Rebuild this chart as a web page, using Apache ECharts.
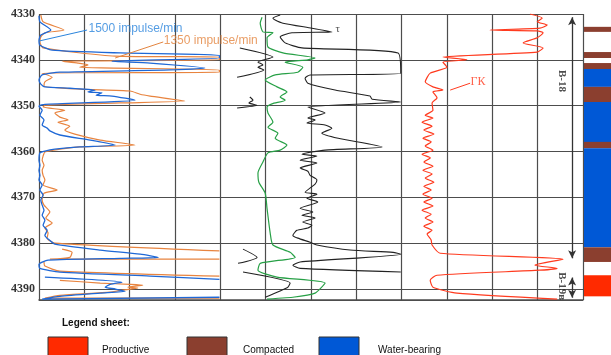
<!DOCTYPE html>
<html>
<head>
<meta charset="utf-8">
<script src="https://cdn.jsdelivr.net/npm/echarts@6/dist/echarts.min.js"></script>
<style>
  html, body { margin: 0; padding: 0; background: #fff; }
  #main { width: 611px; height: 355px; }
</style>
</head>
<body>
<div id="main"></div>
<script>
// depth scale, m
const depthMin = 4330;
const depthMax = 4392.4;
const depthStep = 10;

// curve readings as [value, depth]; value in chart divisions (10 per column), null = break
const nk1500 = [
  [0,4330.4],[0.2,4331.7],[2.6,4333.5],[0.4,4334.6],[0,4335.7],[0.2,4336.8],[2.9,4337.9],[17.9,4338.5],
  [39.8,4339.0],[39.8,4339.6],[16.1,4340.3],[24.5,4340.7],[36.6,4341.8],[28.9,4342.2],[4.6,4342.7],
  [0.7,4343.3],[0,4344.4],[0.4,4345.3],[1.3,4345.9],[6.8,4346.2],[12.4,4346.6],[10.8,4347.0],[13.9,4347.2],
  [12.6,4347.7],[16.1,4347.9],[21.2,4348.8],[1.3,4349.7],[0,4350.1],[0.7,4351.0],[0.2,4352.1],[1.1,4353.1],
  [0.7,4354.2],[1.8,4354.9],[2.4,4355.5],[4.6,4356.4],[11.3,4357.5],[16.8,4358.6],[9.0,4359.0],[3.5,4359.5],
  [1.3,4359.9],[0.2,4360.3],[0,4361.9],[0.2,4363.0],[0,4364.1],[0.2,4365.2],[0,4366.2],[0.7,4367.3],
  [0.2,4368.4],[0.9,4369.5],[0.4,4370.6],[0.7,4371.7],[1.1,4372.8],[0.7,4373.9],[1.3,4375.0],[0.9,4376.1],
  [1.8,4377.2],[1.3,4378.3],[2.4,4379.4],[3.5,4380.2],[13.5,4381.5],[22.3,4382.4],[26.3,4383.1],
  [17.9,4383.3],[2.0,4383.7],[0,4384.6],[0.2,4385.5],[4.6,4386.3],[24.5,4387.2],[39.8,4387.9],null,
  [1.3,4387.4],[18.3,4388.5],[15.7,4389.0],[14.6,4389.6],[16.8,4390.0],[19.0,4390.5],[13.5,4390.9],
  [4.6,4391.6],[0.7,4392.2],[39.8,4391.8]
];
const nk1350 = [
  [0.4,4330.2],[0.9,4331.7],[5.5,4333.5],[1.3,4334.1],[0.4,4335.0],[0.2,4336.1],[0.9,4337.4],[16.8,4339.2],
  [39.8,4339.4],[39.8,4340.0],[5.1,4340.3],[8.6,4340.7],[10.8,4341.1],[9.0,4341.6],[39.8,4342.2],
  [39.8,4342.7],[0.7,4342.9],[2.9,4343.8],[1.3,4344.8],[1.1,4345.7],[9.0,4346.4],[20.1,4346.8],
  [22.3,4347.5],[24.5,4347.9],[32.2,4349.0],[17.9,4349.4],[1.3,4349.9],[0.9,4350.3],[5.7,4351.0],
  [3.5,4351.6],[4.6,4352.5],[6.4,4353.1],[4.2,4353.6],[6.8,4354.5],[5.7,4355.3],[7.9,4356.2],[13.5,4357.5],
  [21.2,4358.6],[9.0,4359.0],[4.6,4359.5],[1.3,4360.1],[0.9,4361.0],[0.7,4361.9],[1.1,4363.0],[0.7,4364.1],
  [0.9,4365.2],[1.3,4366.2],[0.9,4367.3],[4.0,4368.4],[1.1,4369.1],[0.7,4370.6],[1.1,4371.7],[2.4,4373.2],
  [1.5,4374.5],[2.9,4375.6],[1.3,4376.7],[2.0,4377.8],[1.8,4378.9],[3.5,4380.0],[39.8,4381.7],null,
  [5.1,4381.3],[7.3,4382.0],[6.8,4383.1],[2.4,4383.5],[39.8,4383.5],null,
  [1.1,4384.1],[1.3,4385.0],[4.6,4386.1],[39.8,4387.2],null,
  [4.6,4388.1],[13.5,4388.7],[20.1,4389.0],[22.9,4389.2],[19.6,4389.6],[21.8,4389.8],[17.9,4390.3],
  [15.7,4390.7],[4.6,4391.4],[1.3,4392.0],[39.8,4392.0]
];
const tauCurve = [
  [53.2,4330.2],[51.6,4330.9],[52.1,4331.3],[53.8,4332.0],[60.2,4333.1],[64.6,4333.9],[55.8,4334.1],
  [53.2,4335.0],[54.3,4336.3],[58.0,4337.4],[79.2,4338.5],[79.8,4342.9],[59.8,4343.3],[58.7,4344.0],
  [59.3,4345.1],[65.3,4346.6],[73.0,4347.9],[73.5,4348.6],[79.8,4349.2],[59.3,4350.3],[63.1,4351.6],
  [59.3,4352.7],[60.9,4353.1],[59.1,4353.8],[63.1,4354.2],[64.6,4354.9],[62.4,4356.0],[66.0,4357.1],
  [75.7,4359.0],[63.1,4359.7],[58.0,4360.6],[61.3,4361.0],[57.6,4361.9],[61.3,4362.5],[57.6,4363.6],
  [59.3,4364.3],[59.8,4365.2],[61.3,4366.2],[60.9,4367.1],[58.7,4368.9],[61.3,4369.3],[59.1,4370.2],
  [61.5,4371.0],[57.6,4372.4],[60.4,4373.2],[58.0,4373.9],[60.9,4374.5],[58.2,4375.4],[60.2,4376.1],
  [59.3,4376.7],[56.9,4377.2],[56.0,4378.3],[57.1,4378.9],[59.8,4379.8],[61.3,4380.4],[68.6,4381.5],
  [78.1,4382.0],[79.8,4382.4],[57.6,4384.1],[56.0,4384.8],[57.6,4385.5],[79.8,4386.3]
];
const leftBlack = [
  [44.3,4337.4],[51.6,4339.4],[48.3,4340.5],[49.4,4341.1],[48.3,4341.6],[49.6,4342.2],[43.7,4343.8],null,
  [46.5,4348.1],[47.2,4348.8],[46.3,4349.4],[48.1,4349.9],[43.7,4350.5],null,
  [45.0,4381.3],[48.1,4383.1],[43.9,4384.4],null,
  [45.0,4386.3],[55.4,4388.7],[54.9,4389.6],[49.9,4391.8]
];
const greenCurve = [
  [49.2,4330.7],[48.8,4332.0],[49.4,4333.9],[51.6,4334.1],[50.3,4335.2],[50.5,4337.2],[53.8,4338.5],
  [60.9,4339.6],[59.3,4340.0],[54.3,4340.5],[58.2,4341.6],[57.1,4342.7],[52.1,4343.3],[49.9,4344.4],
  [52.5,4345.9],[54.7,4347.0],[53.2,4348.1],[54.3,4348.8],[51.4,4349.6],[50.3,4350.3],[50.5,4351.6],
  [51.6,4353.6],[50.5,4354.7],[52.7,4356.0],[52.1,4357.1],[54.7,4358.6],[53.2,4359.7],[50.5,4360.3],
  [49.4,4362.3],[48.3,4364.7],[48.5,4366.7],[49.9,4369.1],[50.3,4372.4],[51.0,4377.8],[51.6,4380.4],
  [55.4,4382.0],[56.5,4383.1],[48.8,4384.4],[48.3,4385.9],[52.5,4387.4],[63.1,4388.7],[60.9,4390.9],
  [56.0,4391.8],[50.3,4392.2]
];
const gkCurve = [
  [108.3,4330.0],[111.0,4330.9],[109.9,4331.7],[112.1,4332.4],[110.5,4333.1],[99.5,4333.5],[109.9,4333.7],
  [111.2,4334.1],[109.9,4335.2],[106.8,4336.3],[111.2,4337.4],[109.9,4338.3],[89.1,4339.4],[94.4,4340.0],
  [89.1,4340.5],[90.0,4341.6],[86.3,4342.9],[85.2,4344.8],[86.9,4345.9],[89.1,4346.6],[86.9,4347.0],
  [87.8,4348.3],[86.7,4349.4],[86.9,4351.0],[85.2,4352.1],[86.9,4352.7],[84.5,4353.6],[86.7,4354.5],
  [84.9,4355.3],[87.1,4356.2],[84.7,4357.1],[86.5,4357.9],[85.2,4358.8],[86.9,4359.7],[84.5,4360.6],
  [86.3,4361.4],[84.9,4362.3],[86.9,4363.2],[84.7,4364.1],[86.7,4364.9],[85.2,4365.8],[87.1,4366.7],
  [84.9,4367.6],[86.5,4368.4],[84.7,4369.3],[86.7,4370.2],[84.9,4371.0],[86.9,4371.9],[84.5,4372.8],
  [86.5,4373.7],[85.2,4374.5],[86.9,4375.4],[84.9,4376.3],[86.7,4377.2],[85.6,4378.0],[86.5,4379.3],
  [86.7,4380.4],[88.5,4382.2],[115.6,4383.5],[109.4,4384.8],[114.3,4385.5],[110.5,4385.9],[87.8,4387.0],
  [86.3,4388.1],[86.9,4389.6],[92.2,4390.9],[114.3,4392.2]
];

// lithology column: [top, bottom, kind index]
const layerKinds = ['Productive', 'Compacted', 'Water-bearing'];
const layers = [
  [4332.8, 4333.9, 1], [4338.3, 4339.6, 1], [4340.7, 4342.0, 1], [4342.0, 4345.9, 2],
  [4345.9, 4349.2, 1], [4349.2, 4357.9, 2], [4357.9, 4359.3, 1], [4359.3, 4380.9, 2],
  [4380.9, 4384.1, 1], [4387.0, 4391.6, 0]
];
const layerColors = ['#ff2a00', '#8b3f2f', '#0058d6'];

// horizons with depth ranges
const zoneNames = ['В-18', 'В-19в'];
const zoneTops = [4330.7, 4387.5];
const zoneBottoms = [4383.3, 4391.9];
const zoneLabelDepths = [4344.6, 4389.4];

const gridColor = '#4d4d4d';
const chart = echarts.init(document.getElementById('main'));

function curve(name, pts, color, width, extra) {
  return Object.assign({
    name: name,
    type: 'line',
    xAxisIndex: 0,
    yAxisIndex: 0,
    data: pts.map(p => p || ['-', '-']),
    symbol: 'none',
    smooth: 0.2,
    lineStyle: { color: color, width: width },
    z: 3,
    silent: true
  }, extra || {});
}

function leader(from, to, color) {
  return {
    symbol: 'none',
    silent: true,
    label: { show: false },
    lineStyle: { color: color, width: 1, type: 'solid' },
    data: [[{ coord: from }, { coord: to }]]
  };
}

const textNotes = [
  { value: [10.8, 4333.3], label: { formatter: '1500 impulse/min', color: '#2a84dc', fontSize: 12, fontFamily: 'Liberation Sans' } },
  { value: [27.4, 4335.9], label: { formatter: '1350 impulse/min', color: '#e3843f', fontSize: 12, fontFamily: 'Liberation Sans' } },
  { value: [65.3, 4333.3], label: { formatter: 'τ', color: '#222', fontSize: 11, fontFamily: 'Liberation Serif' } },
  { value: [95.1, 4344.8], label: { formatter: 'ГК', color: '#ff3b1f', fontSize: 12, fontFamily: 'Liberation Serif' } }
];

const zoneLabels = zoneNames.map((n, i) => ({
  value: [115.3, zoneLabelDepths[i]],
  label: { formatter: n, rotate: -90, position: 'inside', color: '#222', fontSize: 11, fontWeight: 'bold', fontFamily: 'Liberation Serif' }
}));

const option = {
  animation: false,
  backgroundColor: '#fff',
  grid: [
    { left: 39, top: 14, width: 544, height: 286 },
    { left: 583, top: 14, width: 28, height: 286 }
  ],
  xAxis: [
    {
      gridIndex: 0, type: 'value', min: 0, max: 120, interval: 10,
      axisLine: { show: true, onZero: false, lineStyle: { color: gridColor, width: 1.5 } },
      axisTick: { show: false }, axisLabel: { show: false },
      splitLine: { show: true, lineStyle: { color: gridColor, width: 1.2 } }
    },
    {
      gridIndex: 1, type: 'value', min: 0, max: 1, show: false
    }
  ],
  yAxis: [
    {
      gridIndex: 0, type: 'value', inverse: true, min: depthMin, max: depthMax, interval: depthStep,
      axisLine: { show: false }, axisTick: { show: false },
      axisLabel: {
        showMaxLabel: false, margin: 4, color: '#333', fontSize: 12, fontWeight: 'bold',
        fontFamily: 'Liberation Serif', formatter: v => String(v)
      },
      splitLine: { show: true, lineStyle: { color: gridColor, width: 1.2 } }
    },
    {
      gridIndex: 1, type: 'value', inverse: true, min: depthMin, max: depthMax, show: false
    }
  ],
  series: [
    curve('1350', nk1350, '#e8843f', 1.2, { markLine: leader([16.8, 4339.6], [27.4, 4336.1], '#e3843f') }),
    curve('1500', nk1500, '#1f68d6', 1.3, { markLine: leader([0, 4335.9], [10.6, 4333.5], '#2a84dc') }),
    curve('black', leftBlack, '#222', 1.1),
    curve('green', greenCurve, '#27a046', 1.2),
    curve('tau', tauCurve, '#222', 1.1),
    curve('GK', gkCurve, '#ff3b1f', 1.2, { markLine: leader([90.7, 4346.6], [95.1, 4345.1], '#ff3b1f') }),
    {
      name: 'notes',
      type: 'scatter',
      xAxisIndex: 0, yAxisIndex: 0,
      symbolSize: 1,
      itemStyle: { color: 'rgba(0,0,0,0)' },
      label: { show: true, position: 'right', distance: 0 },
      data: textNotes,
      z: 5,
      silent: true
    },
    {
      name: 'zones',
      type: 'scatter',
      xAxisIndex: 0, yAxisIndex: 0,
      symbolSize: 1,
      itemStyle: { color: 'rgba(0,0,0,0)' },
      label: { show: true },
      data: zoneLabels,
      z: 5,
      silent: true,
      markLine: {
        symbol: ['arrow', 'arrow'],
        symbolSize: [6, 8],
        silent: true,
        label: { show: false },
        lineStyle: { color: '#333', width: 1.3, type: 'solid' },
        data: zoneNames.map((n, i) => [{ coord: [117.6, zoneTops[i]] }, { coord: [117.6, zoneBottoms[i]] }])
      }
    },
    {
      name: 'lithology',
      type: 'custom',
      xAxisIndex: 1, yAxisIndex: 1,
      data: layers,
      silent: true,
      renderItem: (params, api) => {
        const a = api.coord([0, api.value(0)]);
        const b = api.coord([1, api.value(1)]);
        return {
          type: 'rect',
          shape: { x: a[0] + 1, y: a[1], width: b[0] - a[0], height: b[1] - a[1] },
          style: { fill: layerColors[api.value(2)] }
        };
      }
    }
  ],
  graphic: [
    { type: 'text', left: 62, top: 318, style: { text: 'Legend sheet:', font: 'bold 10px "Liberation Sans"', fill: '#111' } }
  ].concat(layerKinds.flatMap((k, i) => {
    const bx = [48, 187, 319][i];
    const tx = [102, 243, 378][i];
    return [
      { type: 'rect', shape: { x: bx, y: 337, width: 40, height: 20 }, style: { fill: layerColors[i], stroke: '#333', lineWidth: 1 } },
      { type: 'text', x: tx, y: 350, style: { text: k, font: '10px "Liberation Sans"', fill: '#111', textVerticalAlign: 'middle' } }
    ];
  }))
};

chart.setOption(option);
</script>
</body>
</html>
